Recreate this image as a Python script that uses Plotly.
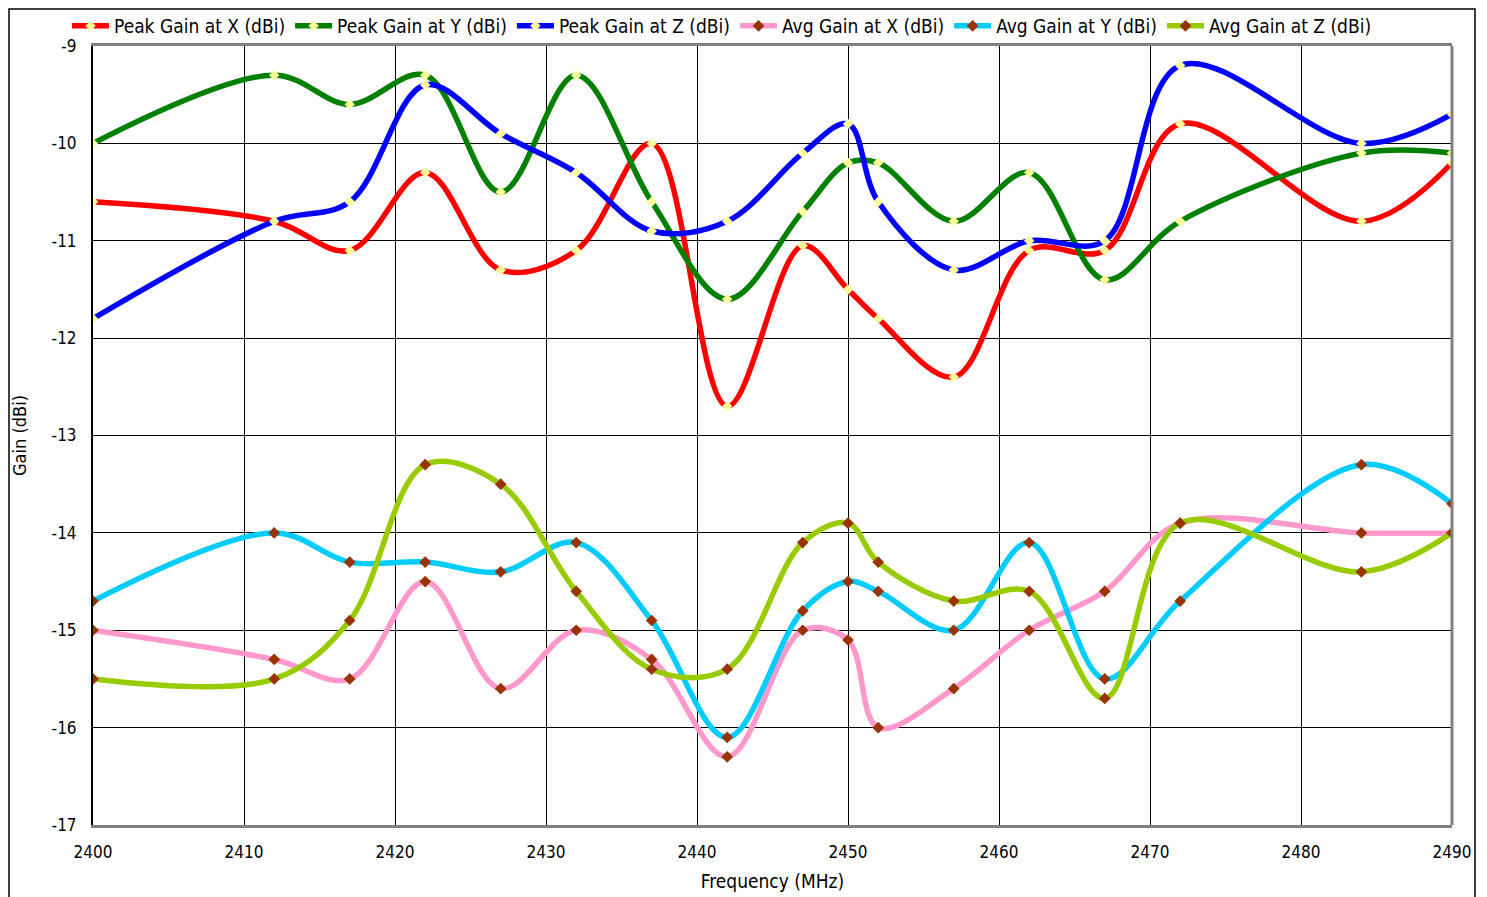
import plotly.graph_objects as go

freq = [2400, 2412, 2417, 2422, 2427, 2432, 2437, 2442, 2447, 2450, 2452,
        2457, 2462, 2467, 2472, 2484, 2490]

peak_x = [-10.6, -10.8, -11.1, -10.3, -11.3, -11.1, -10.0, -12.7, -11.05, -11.5, -11.8,
          -12.4, -11.1, -11.1, -9.8, -10.8, -10.2]
peak_y = [-10.0, -9.3, -9.6, -9.3, -10.5, -9.3, -10.6, -11.6, -10.7, -10.2, -10.2,
          -10.8, -10.3, -11.4, -10.8, -10.1, -10.1]
peak_z = [-11.8, -10.8, -10.6, -9.4, -9.9, -10.3, -10.9, -10.8, -10.1, -9.8, -10.6,
          -11.3, -11.0, -11.0, -9.2, -10.0, -9.7]
avg_x = [-15.0, -15.3, -15.5, -14.5, -15.6, -15.0, -15.3, -16.3, -15.0, -15.1, -16.0,
         -15.6, -15.0, -14.6, -13.9, -14.0, -14.0]
avg_y = [-14.7, -14.0, -14.3, -14.3, -14.4, -14.1, -14.9, -16.1, -14.8, -14.5, -14.6,
         -15.0, -14.1, -15.5, -14.7, -13.3, -13.7]
avg_z = [-15.5, -15.5, -14.9, -13.3, -13.5, -14.6, -15.4, -15.4, -14.1, -13.9, -14.3,
         -14.7, -14.6, -15.7, -13.9, -14.4, -14.0]

series_names = ["Peak Gain at X (dBi)", "Peak Gain at Y (dBi)", "Peak Gain at Z (dBi)",
                "Avg Gain at X (dBi)", "Avg Gain at Y (dBi)", "Avg Gain at Z (dBi)"]
x_ticks = [2400, 2410, 2420, 2430, 2440, 2450, 2460, 2470, 2480, 2490]
y_ticks = [-9, -10, -11, -12, -13, -14, -15, -16, -17]

series = [peak_x, peak_y, peak_z, avg_x, avg_y, avg_z]
line_colors = ["#FF0000", "#008000", "#0000FF", "#FF99CC", "#00CCFF", "#99CC00"]
marker_colors = ["#FFFF99"] * 3 + ["#993300"] * 3
marker_sizes = [8] * 3 + [9] * 3

FONT = "DejaVu Sans Condensed, Liberation Sans, sans-serif"

W, H = 1479, 889
L, R, T, B = 85, 35, 38, 72

fig = go.Figure()
for name, vals, lc, mc, ms in zip(series_names, series, line_colors, marker_colors, marker_sizes):
    fig.add_trace(go.Scatter(
        x=freq, y=vals, name=name, mode="lines+markers",
        line=dict(color=lc, width=5.5, shape="spline", smoothing=1.0),
        marker=dict(color=mc, size=ms, symbol="diamond", line=dict(width=0)),
    ))

pw = W - L - R
ph = H - T - B

fig.update_layout(
    width=W, height=H,
    paper_bgcolor="white", plot_bgcolor="white",
    margin=dict(l=L, r=R, t=T, b=B, autoexpand=False),
    font=dict(family=FONT, size=16, color="black"),
    showlegend=True,
    legend=dict(orientation="h", xref="container", x=59.0 / W, xanchor="left",
                yref="container", y=1 - 18.0 / H, yanchor="middle",
                font=dict(family=FONT, size=19, color="black"),
                itemwidth=37, tracegroupgap=0, bgcolor="rgba(0,0,0,0)"),
    xaxis=dict(range=[2400, 2490], tickvals=x_ticks, ticktext=[str(t) for t in x_ticks],
               showgrid=True, gridcolor="black", gridwidth=1, zeroline=False,
               showline=True, linecolor="#808080", linewidth=3, mirror=True,
               ticks="", ticklabelstandoff=10,
               tickfont=dict(family=FONT, size=17, color="black"),
               title=dict(text="Frequency (MHz)", font=dict(family=FONT, size=19, color="black"),
                          standoff=14)),
    yaxis=dict(range=[-17, -9], tickvals=y_ticks, ticktext=[str(t) for t in y_ticks],
               showgrid=True, gridcolor="black", gridwidth=1, zeroline=False,
               showline=True, linecolor="black", linewidth=2,
               ticks="", ticklabelstandoff=11,
               tickfont=dict(family=FONT, size=17, color="black"),
               title=dict(text="Gain (dBi)", font=dict(family=FONT, size=18, color="black"),
                          standoff=20)),
)

# right border of plot area (gray)
fig.add_shape(type="line", xref="paper", yref="paper", x0=1, x1=1, y0=0, y1=1,
              line=dict(color="#808080", width=3))
# outer chart border
fig.add_shape(type="rect", xref="paper", yref="paper",
              x0=(1.0 - L) / pw, x1=(1467.0 - L) / pw, y0=-0.2, y1=(ph + T - 1.0) / ph,
              line=dict(color="black", width=1.5), fillcolor="rgba(0,0,0,0)", layer="below")

fig.write_html("out.html")
